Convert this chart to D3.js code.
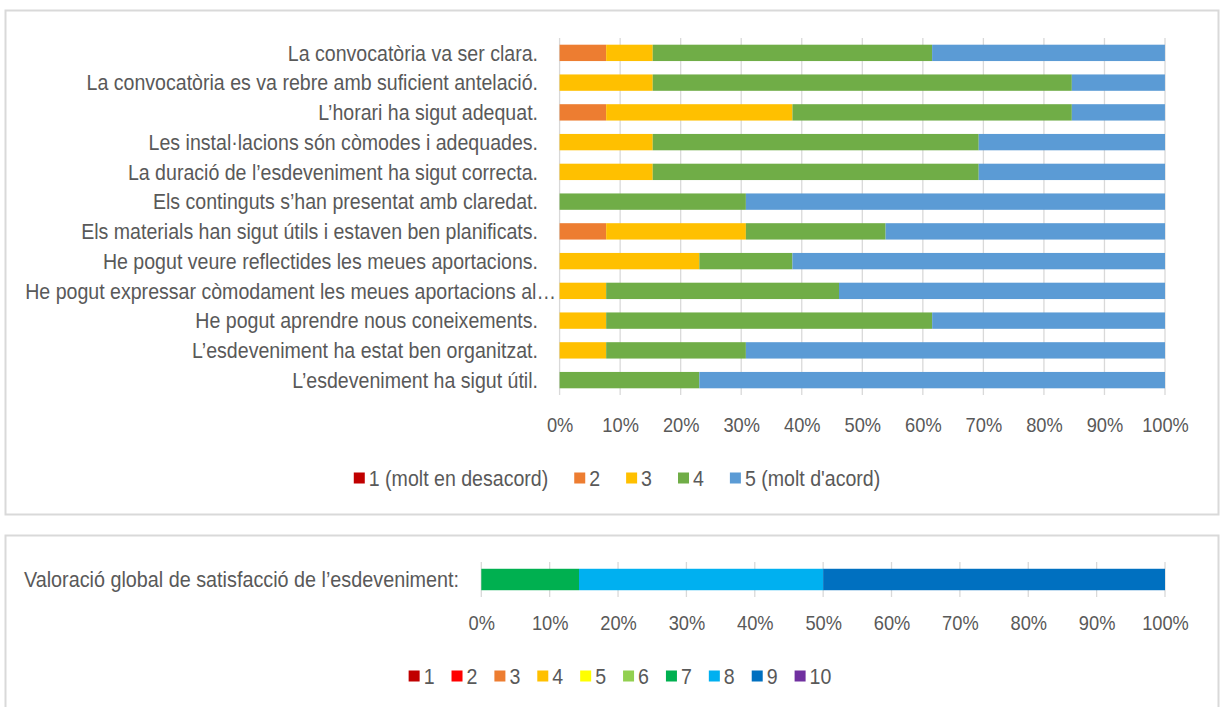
<!DOCTYPE html>
<html lang="ca">
<head>
<meta charset="utf-8">
<script src="https://d3js.org/d3.v7.min.js"></script>
<style>
  body { margin: 0; background: #fff; }
  text { font-family: "Liberation Sans", Arial, sans-serif; fill: #595959; }
</style>
</head>
<body>
<script>
// top chart: answers to each question, % of respondents (scale 1-5)
const questions = [
  "La convocatòria va ser clara.",
  "La convocatòria es va rebre amb suficient antelació.",
  "L’horari ha sigut adequat.",
  "Les instal·lacions són còmodes i adequades.",
  "La duració de l’esdeveniment ha sigut correcta.",
  "Els continguts s’han presentat amb claredat.",
  "Els materials han sigut útils i estaven ben planificats.",
  "He pogut veure reflectides les meues aportacions.",
  "He pogut expressar còmodament les meues aportacions al…",
  "He pogut aprendre nous coneixements.",
  "L’esdeveniment ha estat ben organitzat.",
  "L’esdeveniment ha sigut útil."
];
const topKeys = ["1 (molt en desacord)", "2", "3", "4", "5 (molt d'acord)"];
const topColors = ["#C00000", "#ED7D31", "#FFC000", "#70AD47", "#5B9BD5"];
const score1 = [0, 0, 0, 0, 0, 0, 0, 0, 0, 0, 0, 0];
const score2 = [7.69, 0, 7.69, 0, 0, 0, 7.69, 0, 0, 0, 0, 0];
const score3 = [7.69, 15.38, 30.77, 15.38, 15.38, 0, 23.08, 23.08, 7.69, 7.69, 7.69, 0];
const score4 = [46.15, 69.23, 46.15, 53.85, 53.85, 30.77, 23.08, 15.38, 38.46, 53.85, 23.08, 23.08];
const score5 = [38.46, 15.38, 15.38, 30.77, 30.77, 69.23, 46.15, 61.54, 53.85, 38.46, 69.23, 76.92];

// bottom chart: overall rating 1-10
const globalLabel = "Valoració global de satisfacció de l’esdeveniment:";
const globalKeys = ["1", "2", "3", "4", "5", "6", "7", "8", "9", "10"];
const globalColors = ["#C00000", "#FF0000", "#ED7D31", "#FFC000", "#FFFF00", "#92D050", "#00B050", "#00B0F0", "#0070C0", "#7030A0"];
const globalValues = [0, 0, 0, 0, 0, 0, 14.29, 35.71, 50, 0];

const tickValues = [0, 10, 20, 30, 40, 50, 60, 70, 80, 90, 100];

const W = 1221, H = 707;
const SX = 0.89; // text looks condensed in the original
const svg = d3.select("body").append("svg")
  .attr("width", W).attr("height", H);

// frames
svg.append("rect").attr("x", 5.5).attr("y", 10.5).attr("width", 1213).attr("height", 504)
  .attr("fill", "#fff").attr("stroke", "#d9d9d9").attr("stroke-width", 2);
svg.append("rect").attr("x", 5.5).attr("y", 535.5).attr("width", 1213).attr("height", 220)
  .attr("fill", "#fff").attr("stroke", "#d9d9d9").attr("stroke-width", 2);

// condensed text placed at (x, y)
function label(parent, x, y, txt, anchor, size, sx) {
  return parent.append("text")
    .attr("transform", "translate(" + x + "," + y + ") scale(" + sx + ",1)")
    .attr("dy", "0.35em").attr("text-anchor", anchor)
    .attr("font-size", size + "px").text(txt);
}

function legend(keys, colors, cx, cy, gap) {
  const g = svg.append("g");
  let x = 0;
  keys.forEach((k, i) => {
    const it = g.append("g").attr("transform", "translate(" + x + ",0)");
    it.append("rect").attr("width", 11).attr("height", 11).attr("y", cy - 5.5)
      .attr("fill", colors[i]);
    const t = label(it, 15, cy, k, "start", 22, SX);
    x += 15 + t.node().getComputedTextLength() * SX + gap;
  });
  const total = x - gap;
  g.attr("transform", "translate(" + (cx - total / 2) + ",0)");
}

function axisAt(scale, y) {
  const a = svg.append("g").attr("transform", "translate(0," + y + ")")
    .call(d3.axisBottom(scale).tickValues(tickValues).tickFormat(d => d + "%").tickSize(0));
  a.select(".domain").remove();
  a.selectAll("text").attr("font-size", "21px").attr("dy", "0.35em").attr("y", 0)
    .attr("transform", "scale(0.87,1)")
    .style("font-family", "Liberation Sans, Arial, sans-serif").attr("fill", "#595959");
}

// ---- top chart ----
const topRows = questions.map((q, i) => ({
  q: q,
  [topKeys[0]]: score1[i], [topKeys[1]]: score2[i], [topKeys[2]]: score3[i],
  [topKeys[3]]: score4[i], [topKeys[4]]: score5[i]
}));
const x1 = d3.scaleLinear().domain([0, 100]).range([559.6, 1165]);
const y1 = d3.scaleBand().domain(questions).range([38, 395]).paddingInner(0.45).paddingOuter(0.225);

svg.append("g").selectAll("line").data(tickValues).enter().append("line")
  .attr("x1", d => x1(d)).attr("x2", d => x1(d))
  .attr("y1", 38).attr("y2", 395)
  .attr("stroke", "#d9d9d9").attr("stroke-width", 1.3);

const topStack = d3.stack().keys(topKeys)(topRows);
svg.append("g").selectAll("g").data(topStack).enter().append("g")
  .attr("fill", (d, i) => topColors[i])
  .selectAll("rect").data(d => d).enter().append("rect")
  .attr("x", d => x1(d[0]))
  .attr("width", d => Math.max(0, x1(d[1]) - x1(d[0])))
  .attr("y", d => y1(d.data.q))
  .attr("height", y1.bandwidth());

const qLabels = svg.append("g");
questions.forEach(q => {
  label(qLabels, q.endsWith("…") ? 556 : 538, y1(q) + y1.bandwidth() / 2, q, "end", 22, SX);
});

axisAt(x1, 425);
legend(topKeys, topColors, 617, 478, 26);

// ---- bottom chart ----
const globalRow = { q: globalLabel };
globalKeys.forEach((k, i) => { globalRow[k] = globalValues[i]; });
const x2 = d3.scaleLinear().domain([0, 100]).range([481.3, 1165]);
const y2 = d3.scaleBand().domain([globalLabel]).range([562, 597]).padding(0.24);

svg.append("g").selectAll("line").data(tickValues).enter().append("line")
  .attr("x1", d => x2(d)).attr("x2", d => x2(d))
  .attr("y1", 562).attr("y2", 597)
  .attr("stroke", "#d9d9d9").attr("stroke-width", 1.3);

const globalStack = d3.stack().keys(globalKeys)([globalRow]);
svg.append("g").selectAll("g").data(globalStack).enter().append("g")
  .attr("fill", (d, i) => globalColors[i])
  .selectAll("rect").data(d => d).enter().append("rect")
  .attr("x", d => x2(d[0]))
  .attr("width", d => Math.max(0, x2(d[1]) - x2(d[0])))
  .attr("y", y2(globalLabel))
  .attr("height", y2.bandwidth());

label(svg, 459, y2(globalLabel) + y2.bandwidth() / 2, globalLabel, "end", 22, 0.9);

axisAt(x2, 623);
legend(globalKeys, globalColors, 620, 676, 17);
</script>
</body>
</html>
